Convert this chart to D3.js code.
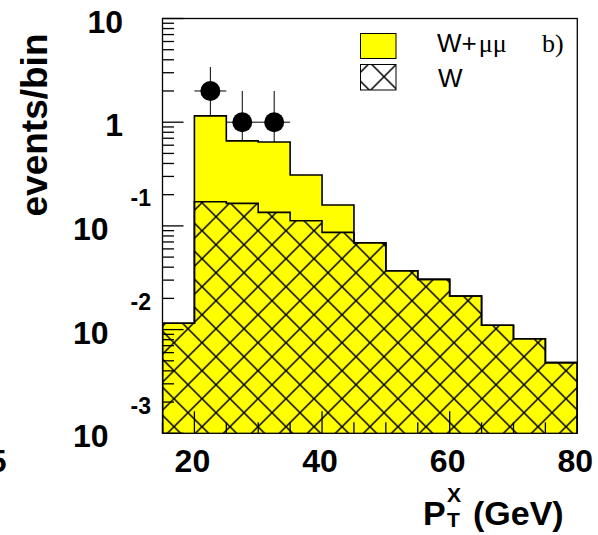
<!DOCTYPE html>
<html>
<head>
<meta charset="utf-8">
<script src="https://cdn.jsdelivr.net/npm/d3@7"></script>
<style>
  html, body { margin: 0; padding: 0; background: #fff; }
  svg { display: block; }
  .lab { font-family: "Liberation Sans", Arial, Helvetica, sans-serif; font-weight: bold; fill: #000; }
</style>
</head>
<body>
<svg id="chart" width="598" height="535"></svg>
<script>
// Bin lower edges (GeV), 5 GeV wide bins
const binLow = [15, 20, 25, 30, 35, 40, 45, 50, 55, 60, 65, 70, 75];
const binWidth = 5;
// Expected events per bin: W + mu mu (total) and W alone
const totalExp = [0.0115, 1.15, 0.66, 0.645, 0.31, 0.159, 0.0689, 0.037, 0.0305, 0.0211, 0.011, 0.00817, 0.0048];
const wOnly    = [0.0115, 0.171, 0.165, 0.135, 0.112, 0.0867, 0.0689, 0.037, 0.0305, 0.0211, 0.011, 0.00817, 0.0048];
// Observed events
const dataX   = [22.5, 27.5, 32.5];
const dataY   = [2, 1, 1];
const dataErr = [1.41, 1, 1];
// Axis ticks
const xMajor = [20, 40, 60, 80];
const yDecades = [1, 0, -1, -2, -3];

const svg = d3.select("#chart");
const L = 162.5, R = 577.3, T = 18.5, B = 433.3;
const x = d3.scaleLinear().domain([15, 80]).range([L, R]);
const y = d3.scaleLog().domain([1e-3, 10]).range([B, T]);

// Cross-hatch pattern
const defs = svg.append("defs");
const d = 28;
const pat = defs.append("pattern").attr("id", "xhatch")
  .attr("patternUnits", "userSpaceOnUse")
  .attr("x", 202 % d).attr("y", 370.7 % d)
  .attr("width", d).attr("height", d);
let hp = "";
for (const k of [-d, 0, d]) {
  hp += `M${k - 2},${-2}L${k + d + 2},${d + 2}`;
  hp += `M${k + d + 2},${-2}L${k - 2},${d + 2}`;
}
pat.append("path").attr("d", hp).attr("stroke", "#000").attr("stroke-width", 1.5).attr("fill", "none");

defs.append("clipPath").attr("id", "frameClip")
  .append("rect").attr("x", L).attr("y", T).attr("width", R - L).attr("height", B - T);

const plot = svg.append("g").attr("clip-path", "url(#frameClip)");

// Error bars of the observed points (drawn under the histograms)
dataX.forEach((cx, i) => {
  const v = dataY[i], e = dataErr[i];
  const lo = Math.max(v - e, 1e-3);
  plot.append("line").attr("x1", x(cx)).attr("x2", x(cx))
    .attr("y1", y(v + e)).attr("y2", y(lo))
    .attr("stroke", "#000").attr("stroke-width", 1);
  plot.append("line").attr("x1", x(cx - binWidth / 2)).attr("x2", x(cx + binWidth / 2))
    .attr("y1", y(v)).attr("y2", y(v))
    .attr("stroke", "#000").attr("stroke-width", 1);
});

// Step outline of a histogram, closed along the bottom of the frame
function stepPath(vals) {
  const p = d3.path();
  p.moveTo(x(binLow[0]), B);
  vals.forEach((v, i) => {
    p.lineTo(x(binLow[i]), y(v));
    p.lineTo(x(binLow[i] + binWidth), y(v));
  });
  p.lineTo(x(binLow[binLow.length - 1] + binWidth), B);
  return p.toString();
}

plot.append("path").attr("d", stepPath(totalExp))
  .attr("fill", "#ffff00").attr("stroke", "#000").attr("stroke-width", 1.6);
plot.append("path").attr("d", stepPath(wOnly))
  .attr("fill", "url(#xhatch)").attr("stroke", "#000").attr("stroke-width", 1.6);

// Observed markers
dataX.forEach((cx, i) => {
  plot.append("circle").attr("cx", x(cx)).attr("cy", y(dataY[i])).attr("r", 10).attr("fill", "#000");
});

// Frame
svg.append("rect").attr("x", L).attr("y", T).attr("width", R - L).attr("height", B - T)
  .attr("fill", "none").attr("stroke", "#000").attr("stroke-width", 1.3);

// Y ticks (log): decade majors and 2..9 minors
const yTicks = svg.append("g");
yDecades.forEach(e => {
  const v = Math.pow(10, e);
  yTicks.append("line").attr("x1", L).attr("x2", L + 21).attr("y1", y(v)).attr("y2", y(v))
    .attr("stroke", "#000").attr("stroke-width", 1.3);
});
[0, -1, -2, -3].forEach(e => {
  for (let m = 2; m <= 9; m++) {
    const v = m * Math.pow(10, e);
    yTicks.append("line").attr("x1", L).attr("x2", L + 11.5).attr("y1", y(v)).attr("y2", y(v))
      .attr("stroke", "#000").attr("stroke-width", 1.3);
  }
});

// X ticks: minors every 5, majors every 20
const xTicks = svg.append("g");
x.ticks(13).concat(d3.range(15, 81, 5)).filter((v, i, a) => a.indexOf(v) === i).forEach(v => {
  const major = xMajor.includes(v);
  xTicks.append("line").attr("x1", x(v)).attr("x2", x(v))
    .attr("y1", B).attr("y2", B - (major ? 22 : 11))
    .attr("stroke", "#000").attr("stroke-width", 1.3);
});

// Y tick labels
yDecades.forEach(e => {
  const yy = y(Math.pow(10, e));
  if (e >= 0) {
    svg.append("text").attr("class", "lab").attr("x", 123).attr("y", yy + 14)
      .attr("text-anchor", "end").attr("font-size", 32).text(e === 1 ? "10" : "1");
  } else {
    svg.append("text").attr("class", "lab").attr("x", 108.5).attr("y", yy + 14)
      .attr("text-anchor", "end").attr("font-size", 32).text("10");
    svg.append("text").attr("class", "lab").attr("x", 151).attr("y", yy - 19.5)
      .attr("text-anchor", "end").attr("font-size", 23).text(String(e));
  }
});

// X tick labels
xMajor.forEach(v => {
  svg.append("text").attr("class", "lab").attr("x", x(v) - 2).attr("y", 472)
    .attr("text-anchor", "middle").attr("font-size", 32).text(v);
});
// Label of the neighbouring pad, cut at the edge
svg.append("text").attr("class", "lab").attr("x", 6.5).attr("y", 472)
  .attr("text-anchor", "end").attr("font-size", 32).text("15");

// Axis titles
svg.append("text").attr("class", "lab").attr("transform", "translate(47,125) rotate(-90)")
  .attr("text-anchor", "middle").attr("font-size", 37).text("events/bin");

svg.append("text").attr("class", "lab").attr("x", 423).attr("y", 525).attr("font-size", 34).text("P");
svg.append("text").attr("class", "lab").attr("x", 447).attr("y", 502).attr("font-size", 21).text("X");
svg.append("text").attr("class", "lab").attr("x", 447).attr("y", 527).attr("font-size", 21).text("T");
svg.append("text").attr("class", "lab").attr("x", 473).attr("y", 525).attr("font-size", 34).text("(GeV)");

// Legend
const leg = svg.append("g");
leg.append("rect").attr("x", 360.5).attr("y", 33.5).attr("width", 35.5).attr("height", 25)
  .attr("fill", "#ffff00").attr("stroke", "#000").attr("stroke-width", 1);
leg.append("rect").attr("x", 360.5).attr("y", 64.5).attr("width", 35.5).attr("height", 25.5)
  .attr("fill", "#fff").attr("stroke", "none");
leg.append("rect").attr("x", 360.5).attr("y", 64.5).attr("width", 35.5).attr("height", 25.5)
  .attr("fill", "url(#xhatch)").attr("stroke", "#000").attr("stroke-width", 1);

const t1 = leg.append("text").attr("x", 437).attr("y", 52).attr("font-size", 26)
  .attr("font-family", "'Liberation Sans', Arial, sans-serif");
t1.append("tspan").text("W+");
t1.append("tspan").attr("font-family", "'Liberation Serif', 'Times New Roman', serif").attr("dx", 2).text("μμ");
leg.append("text").attr("x", 542).attr("y", 52).attr("font-size", 26)
  .attr("font-family", "'Liberation Serif', 'Times New Roman', serif").text("b)");
leg.append("text").attr("x", 438).attr("y", 87).attr("font-size", 26)
  .attr("font-family", "'Liberation Sans', Arial, sans-serif").text("W");
</script>
</body>
</html>
